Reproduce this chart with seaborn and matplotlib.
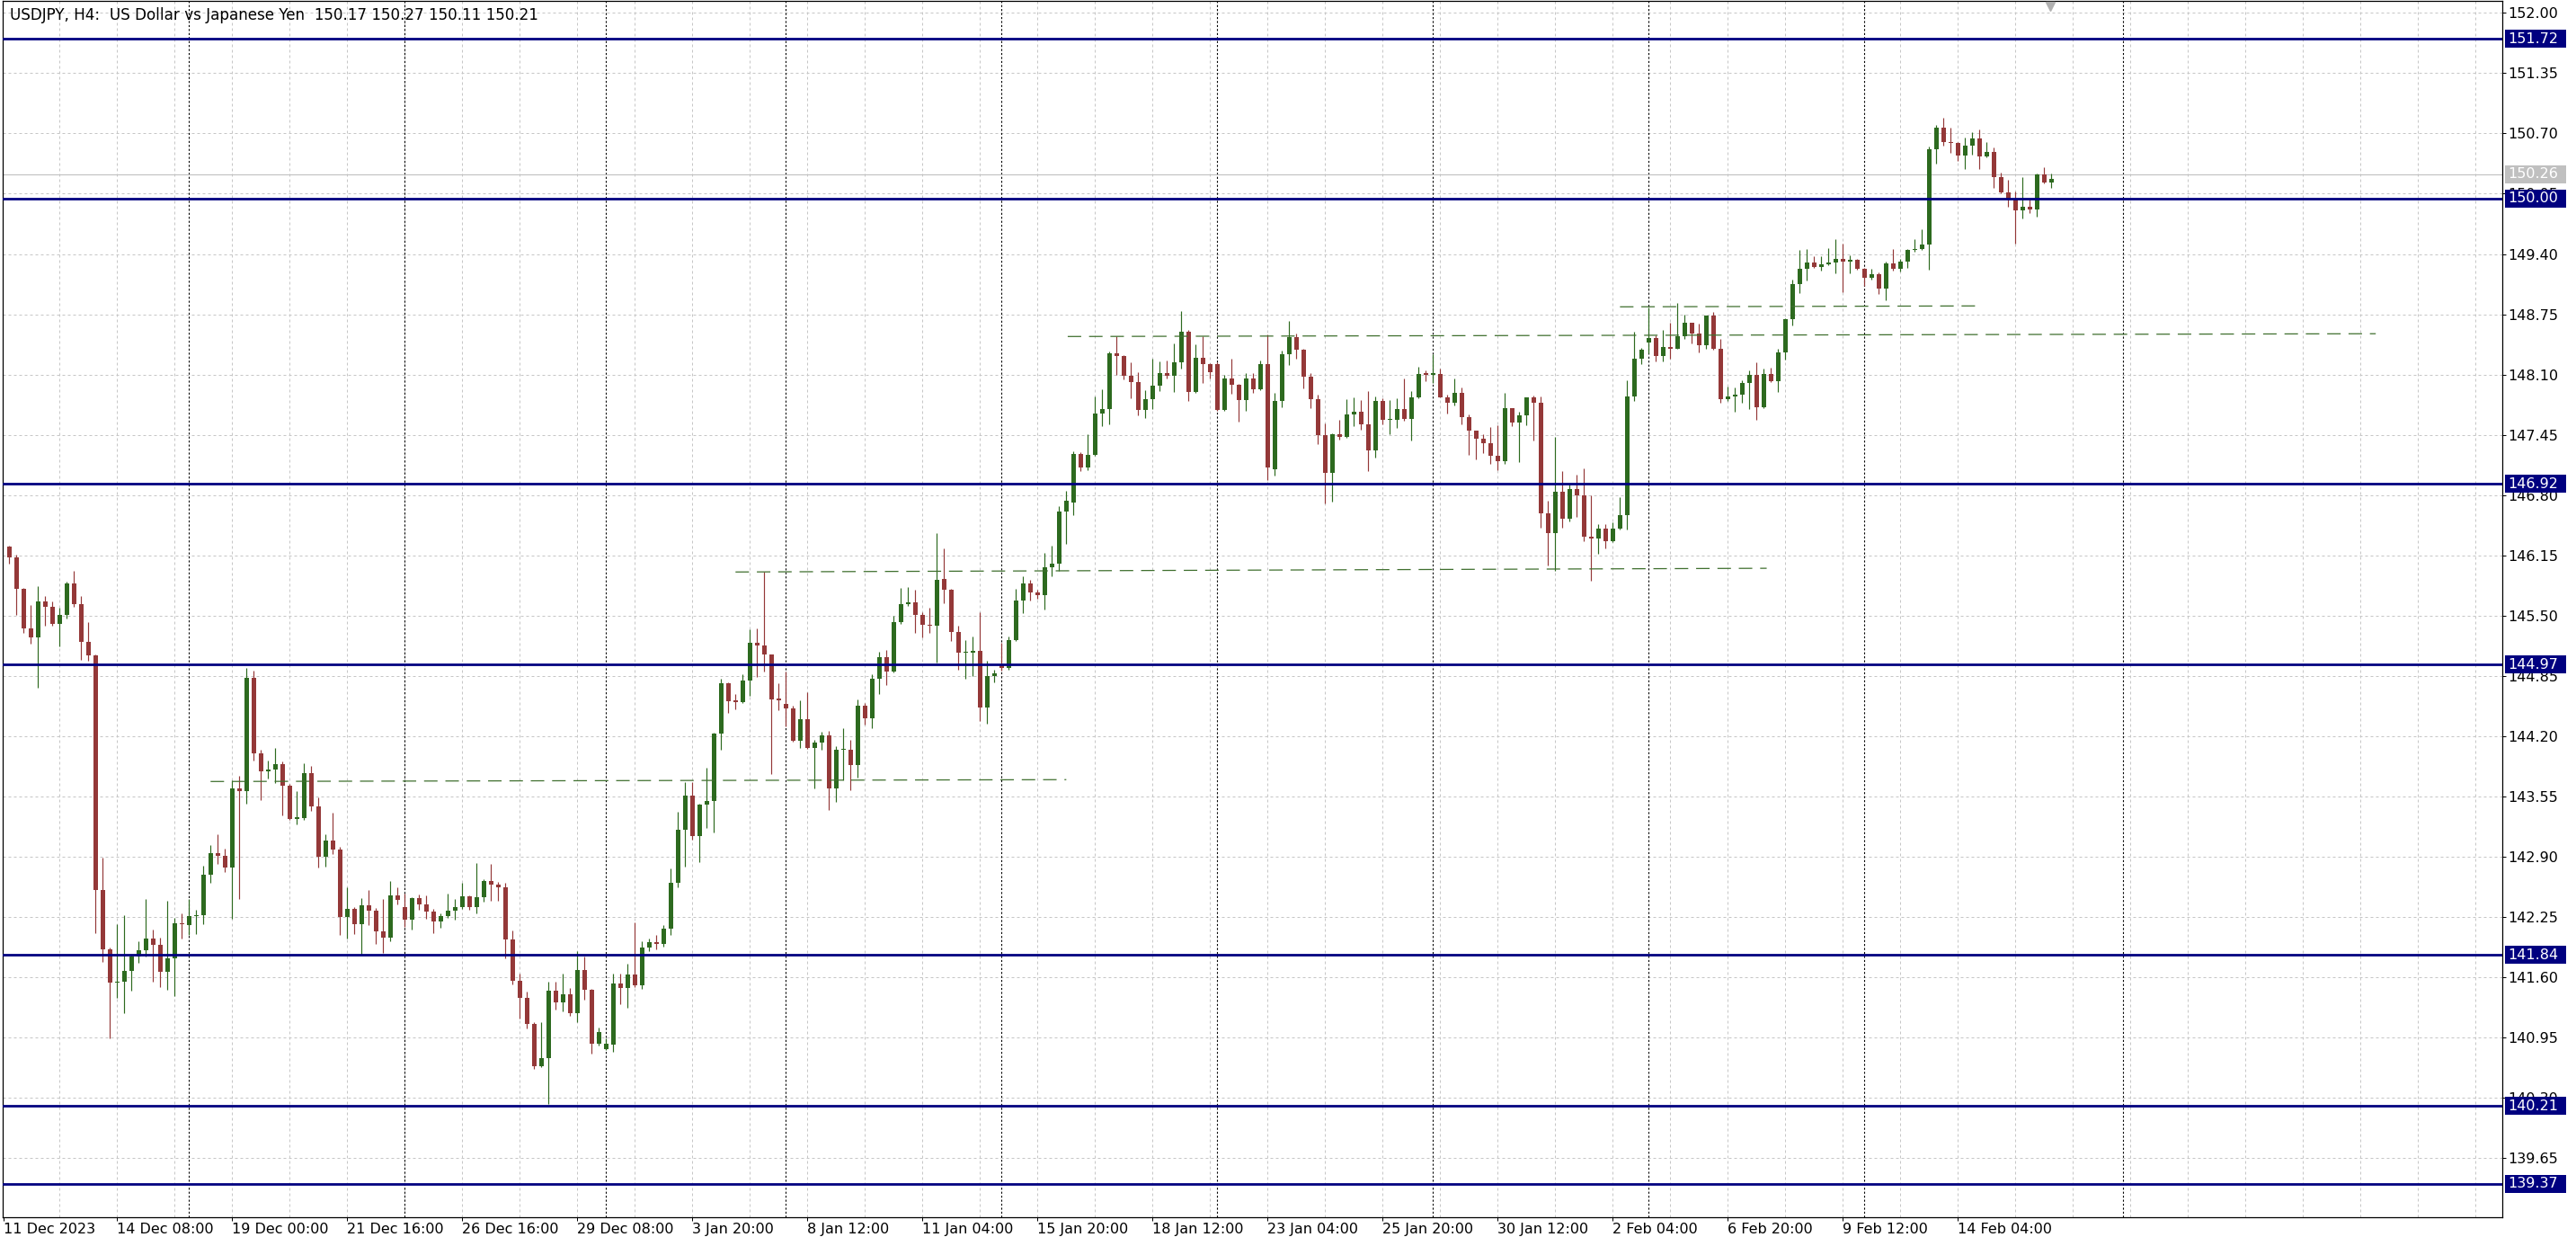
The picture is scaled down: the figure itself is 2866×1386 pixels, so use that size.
import matplotlib
matplotlib.use("Agg")
import matplotlib.pyplot as plt
import matplotlib.transforms as mtransforms
from matplotlib.patches import Rectangle
import seaborn as sns
import numpy as np

# USDJPY H4 candles, first bar = 11 Dec 2023 20:00
opens = [
    146.24, 146.13, 145.79, 145.36, 145.26, 145.65, 145.59, 145.41, 145.51, 145.85,
    145.62, 145.22, 145.07, 142.54, 141.90, 141.54, 141.55, 141.67, 141.82, 141.89,
    142.02, 141.95, 141.66, 141.80, 142.18, 142.16, 142.26, 142.27, 142.70, 142.94,
    142.91, 142.78, 143.64, 143.61, 144.83, 144.01, 143.82, 143.84, 143.90, 143.66,
    143.31, 143.32, 143.80, 143.44, 142.90, 143.07, 142.98, 142.25, 142.34, 142.17,
    142.37, 142.32, 142.09, 142.03, 142.48, 142.36, 142.22, 142.45, 142.38, 142.31,
    142.20, 142.26, 142.32, 142.36, 142.47, 142.36, 142.46, 142.64, 142.60, 142.57,
    142.01, 141.56, 141.38, 141.09, 140.64, 140.73, 141.45, 141.33, 141.41, 141.21,
    141.68, 141.46, 140.88, 140.82, 140.87, 141.53, 141.48, 141.63, 141.51, 141.92,
    141.98, 141.96, 142.12, 142.62, 143.19, 143.56, 143.12, 143.46, 143.50, 144.23,
    144.77, 144.58, 144.57, 144.80, 145.21, 145.18, 145.08, 144.60, 144.55, 144.50,
    144.15, 144.38, 144.07, 144.13, 144.21, 143.64, 144.05, 144.05, 143.89, 144.53,
    144.39, 144.82, 145.05, 144.90, 145.43, 145.62, 145.64, 145.51, 145.40, 145.39,
    145.89, 145.78, 145.32, 145.10, 145.10, 145.12, 144.51, 144.85, 144.96, 144.93,
    145.24, 145.66, 145.85, 145.75, 145.72, 146.02, 146.06, 146.62, 146.72, 147.24,
    147.10, 147.23, 147.68, 147.73, 148.33, 148.30, 148.09, 148.02, 147.72, 147.83,
    147.98, 148.12, 148.09, 148.23, 148.56, 147.91, 148.28, 148.21, 148.21, 147.72,
    148.06, 147.99, 147.82, 148.06, 147.94, 148.21, 147.08, 147.81, 148.32, 148.50,
    148.37, 148.08, 147.83, 147.45, 147.04, 147.46, 147.43, 147.67, 147.70, 147.56,
    147.28, 147.81, 147.61, 147.61, 147.73, 147.62, 147.85, 148.11, 148.10, 148.11,
    147.85, 147.80, 147.90, 147.64, 147.49, 147.41, 147.36, 147.22, 147.17, 147.74,
    147.58, 147.66, 147.85, 147.80, 146.60, 146.39, 146.84, 146.54, 146.86, 146.80,
    146.35, 146.33, 146.44, 146.30, 146.44, 146.58, 147.86, 148.27, 148.45, 148.49,
    148.30, 148.40, 148.38, 148.51, 148.66, 148.54, 148.42, 148.74, 148.38, 147.83,
    147.86, 147.88, 148.01, 148.10, 147.75, 148.11, 148.03, 148.34, 148.70, 149.08,
    149.24, 149.31, 149.26, 149.29, 149.31, 149.35, 149.32, 149.34, 149.24, 149.14,
    149.18, 149.03, 149.30, 149.24, 149.32, 149.44, 149.45, 149.50, 150.53, 150.76,
    150.61, 150.60, 150.46, 150.57, 150.65, 150.45, 150.50, 150.23, 150.06, 150.00,
    149.87, 149.91, 149.88, 150.26, 150.17,
]
highs = [
    146.25, 146.16, 145.80, 145.61, 145.82, 145.71, 145.65, 145.58, 145.87, 145.98,
    145.71, 145.43, 145.08, 142.89, 141.92, 142.17, 142.27, 141.84, 141.99, 142.44,
    142.11, 142.03, 142.42, 142.24, 142.29, 142.44, 142.33, 142.80, 143.02, 143.14,
    142.99, 143.72, 143.77, 144.93, 144.91, 144.05, 143.94, 144.07, 143.93, 143.68,
    143.61, 143.91, 143.88, 143.54, 143.14, 143.37, 143.01, 142.57, 142.36, 142.45,
    142.54, 142.35, 142.44, 142.64, 142.57, 142.50, 142.46, 142.49, 142.48, 142.34,
    142.29, 142.50, 142.44, 142.62, 142.48, 142.83, 142.66, 142.82, 142.63, 142.62,
    142.10, 141.64, 141.44, 141.11, 141.11, 141.55, 141.55, 141.64, 141.48, 141.88,
    141.82, 141.47, 141.06, 140.94, 141.64, 141.64, 141.74, 142.19, 141.99, 142.02,
    142.05, 142.16, 142.77, 143.38, 143.70, 143.70, 143.47, 143.86, 144.24, 144.82,
    144.78, 144.65, 144.87, 145.35, 145.36, 145.97, 145.08, 144.77, 144.90, 144.53,
    144.59, 144.67, 144.16, 144.25, 144.26, 144.09, 144.29, 144.16, 144.60, 144.56,
    144.87, 145.11, 145.13, 145.50, 145.80, 145.81, 145.78, 145.54, 145.58, 146.39,
    146.22, 145.79, 145.39, 145.24, 145.27, 145.54, 145.01, 144.92, 145.21, 145.27,
    145.79, 145.92, 145.89, 145.78, 146.18, 146.25, 146.68, 146.85, 147.27, 147.26,
    147.46, 147.86, 147.94, 148.35, 148.51, 148.31, 148.23, 148.13, 147.93, 148.27,
    148.24, 148.25, 148.44, 148.78, 148.58, 148.43, 148.51, 148.22, 148.23, 148.10,
    148.27, 148.00, 148.12, 148.12, 148.25, 148.53, 147.90, 148.36, 148.68, 148.54,
    148.38, 148.12, 147.88, 147.57, 147.47, 147.61, 147.83, 147.85, 147.82, 147.92,
    147.86, 147.84, 147.82, 147.84, 148.06, 147.92, 148.18, 148.14, 148.32, 148.16,
    147.88, 148.06, 147.96, 147.67, 147.49, 147.46, 147.53, 147.55, 147.90, 147.74,
    147.70, 147.85, 147.87, 147.86, 146.74, 147.43, 147.06, 146.91, 147.02, 147.09,
    146.80, 146.49, 146.49, 146.51, 146.78, 148.04, 148.56, 148.39, 148.82, 148.52,
    148.58, 148.66, 148.87, 148.75, 148.66, 148.65, 148.74, 148.77, 148.48, 147.97,
    147.96, 148.04, 148.14, 148.23, 148.16, 148.17, 148.38, 148.71, 149.12, 149.44,
    149.45, 149.38, 149.38, 149.46, 149.56, 149.51, 149.39, 149.35, 149.25, 149.24,
    149.20, 149.32, 149.45, 149.35, 149.45, 149.56, 149.67, 150.56, 150.79, 150.87,
    150.76, 150.61, 150.66, 150.71, 150.74, 150.61, 150.55, 150.28, 150.20, 150.07,
    150.23, 149.99, 150.27, 150.34, 150.27,
]
lows = [
    146.06, 145.51, 145.31, 145.20, 144.72, 145.39, 145.39, 145.17, 145.47, 145.59,
    145.02, 145.01, 142.07, 141.76, 140.94, 141.38, 141.21, 141.45, 141.75, 141.82,
    141.55, 141.49, 141.46, 141.40, 142.02, 142.05, 142.06, 142.17, 142.62, 142.82,
    142.73, 142.23, 142.44, 143.47, 143.94, 143.51, 143.74, 143.69, 143.34, 143.30,
    143.25, 143.30, 143.39, 142.78, 142.79, 142.93, 142.05, 142.02, 142.06, 141.84,
    142.16, 141.96, 141.86, 141.99, 142.38, 142.14, 142.11, 142.33, 142.23, 142.07,
    142.13, 142.24, 142.22, 142.34, 142.33, 142.29, 142.41, 142.42, 142.42, 141.80,
    141.52, 141.15, 141.05, 140.61, 140.63, 140.23, 141.25, 141.23, 141.18, 141.11,
    141.36, 140.77, 140.86, 140.81, 140.79, 141.31, 141.27, 141.49, 141.47, 141.88,
    141.90, 141.93, 142.05, 142.57, 142.79, 143.08, 142.84, 143.21, 143.16, 144.05,
    144.45, 144.49, 144.56, 144.63, 144.84, 144.90, 143.79, 144.48, 144.30, 144.14,
    144.07, 144.06, 143.64, 144.05, 143.40, 143.49, 143.72, 143.62, 143.75, 144.32,
    144.29, 144.65, 144.75, 144.89, 145.41, 145.60, 145.31, 145.26, 145.31, 144.99,
    145.63, 145.23, 144.92, 144.82, 144.85, 144.36, 144.33, 144.78, 144.91, 144.92,
    145.23, 145.53, 145.66, 145.68, 145.57, 145.92, 145.98, 146.27, 146.58, 147.06,
    147.07, 147.22, 147.54, 147.56, 148.10, 148.05, 147.84, 147.66, 147.63, 147.73,
    147.92, 148.06, 147.91, 148.16, 147.81, 147.90, 148.01, 148.06, 147.71, 147.71,
    147.89, 147.59, 147.71, 147.90, 147.93, 146.96, 147.01, 147.75, 148.20, 148.27,
    147.95, 147.74, 147.35, 146.71, 146.73, 147.40, 147.42, 147.54, 147.50, 147.06,
    147.20, 147.56, 147.46, 147.52, 147.60, 147.39, 147.84, 148.03, 148.01, 147.85,
    147.68, 147.77, 147.56, 147.23, 147.18, 147.25, 147.14, 147.07, 147.14, 147.54,
    147.16, 147.55, 147.39, 146.45, 146.04, 145.98, 146.45, 146.52, 146.56, 146.30,
    145.88, 146.17, 146.22, 146.29, 146.43, 146.43, 147.81, 148.21, 148.33, 148.24,
    148.24, 148.27, 148.38, 148.48, 148.44, 148.34, 148.38, 148.37, 147.80, 147.81,
    147.70, 147.80, 147.73, 147.61, 147.74, 148.02, 147.91, 148.26, 148.63, 148.98,
    149.11, 149.25, 149.22, 149.28, 149.19, 148.99, 149.19, 149.23, 149.06, 149.12,
    148.97, 148.90, 149.22, 149.21, 149.25, 149.42, 149.44, 149.23, 150.37, 150.57,
    150.49, 150.40, 150.32, 150.47, 150.32, 150.44, 150.11, 150.05, 149.91, 149.51,
    149.78, 149.84, 149.80, 150.16, 150.11,
]
closes = [
    146.13, 145.79, 145.36, 145.26, 145.65, 145.59, 145.41, 145.51, 145.85, 145.62,
    145.22, 145.07, 142.54, 141.90, 141.54, 141.55, 141.67, 141.82, 141.89, 142.02,
    141.95, 141.66, 141.80, 142.18, 142.17, 142.26, 142.27, 142.70, 142.94, 142.91,
    142.78, 143.64, 143.61, 144.83, 144.01, 143.82, 143.84, 143.90, 143.66, 143.31,
    143.32, 143.80, 143.44, 142.90, 143.07, 142.98, 142.25, 142.34, 142.17, 142.37,
    142.32, 142.09, 142.03, 142.48, 142.43, 142.22, 142.45, 142.38, 142.31, 142.20,
    142.26, 142.32, 142.36, 142.47, 142.36, 142.46, 142.64, 142.60, 142.57, 142.01,
    141.56, 141.38, 141.09, 140.64, 140.73, 141.45, 141.33, 141.41, 141.21, 141.68,
    141.46, 140.88, 141.01, 140.88, 141.53, 141.48, 141.63, 141.51, 141.92, 141.98,
    141.96, 142.12, 142.62, 143.19, 143.56, 143.12, 143.46, 143.50, 144.23, 144.77,
    144.58, 144.57, 144.80, 145.21, 145.18, 145.08, 144.60, 144.59, 144.50, 144.15,
    144.38, 144.07, 144.13, 144.21, 143.64, 144.05, 144.06, 143.89, 144.53, 144.39,
    144.82, 145.05, 144.90, 145.43, 145.62, 145.64, 145.51, 145.40, 145.39, 145.89,
    145.78, 145.32, 145.10, 145.10, 145.12, 144.51, 144.85, 144.88, 144.93, 145.24,
    145.66, 145.85, 145.75, 145.72, 146.02, 146.06, 146.62, 146.74, 147.24, 147.10,
    147.23, 147.68, 147.73, 148.33, 148.30, 148.09, 148.02, 147.72, 147.83, 147.98,
    148.12, 148.09, 148.23, 148.56, 147.91, 148.28, 148.21, 148.13, 147.72, 148.06,
    147.99, 147.82, 148.06, 147.94, 148.21, 147.10, 147.81, 148.32, 148.50, 148.37,
    148.08, 147.83, 147.45, 147.04, 147.46, 147.43, 147.67, 147.70, 147.56, 147.28,
    147.81, 147.61, 147.61, 147.73, 147.62, 147.85, 148.11, 148.10, 148.11, 147.85,
    147.80, 147.90, 147.64, 147.49, 147.41, 147.36, 147.22, 147.17, 147.74, 147.58,
    147.66, 147.85, 147.80, 146.60, 146.39, 146.84, 146.54, 146.86, 146.80, 146.35,
    146.33, 146.44, 146.30, 146.44, 146.58, 147.86, 148.27, 148.37, 148.49, 148.30,
    148.40, 148.38, 148.51, 148.66, 148.54, 148.42, 148.74, 148.38, 147.83, 147.86,
    147.88, 148.01, 148.10, 147.75, 148.11, 148.03, 148.34, 148.70, 149.08, 149.24,
    149.31, 149.26, 149.29, 149.31, 149.35, 149.32, 149.34, 149.24, 149.14, 149.18,
    149.03, 149.30, 149.24, 149.32, 149.44, 149.45, 149.50, 150.53, 150.76, 150.61,
    150.60, 150.46, 150.57, 150.65, 150.45, 150.50, 150.23, 150.06, 150.00, 149.87,
    149.91, 149.88, 150.26, 150.17, 150.21,
]

time_labels = [
    "11 Dec 2023", "14 Dec 08:00", "19 Dec 00:00", "21 Dec 16:00", "26 Dec 16:00",
    "29 Dec 08:00", "3 Jan 20:00", "8 Jan 12:00", "11 Jan 04:00", "15 Jan 20:00",
    "18 Jan 12:00", "23 Jan 04:00", "25 Jan 20:00", "30 Jan 12:00", "2 Feb 04:00",
    "6 Feb 20:00", "9 Feb 12:00", "14 Feb 04:00",
]
# bar numbers where a period separator is drawn
week_starts = [25, 55, 83, 108, 138, 168, 198, 228, 258, 294]

# horizontal support / resistance levels
levels = [151.72, 150.00, 146.92, 144.97, 141.84, 140.21, 139.37]
last_price = 150.26

# dashed trend lines: bar from/to and price from/to
trend_bars = [(28.0, 147.0), (101.0, 244.4), (147.2, 329.1), (224.0, 273.9)]
trend_prices = [(143.71, 143.73), (145.97, 146.01), (148.51, 148.54), (148.83, 148.84)]

title = "USDJPY, H4:  US Dollar vs Japanese Yen  150.17 150.27 150.11 150.21"

# ---- style ----
BULL = "#2d6a1f"
BEAR = "#943838"
NAVY = "#000080"
GRID = "#c6c6c6"
TREND = "#3f6f2e"
FS = 11.5

sns.set_theme(style="white")
plt.rcParams["font.family"] = ["DejaVu Sans"]

W, H = 2866, 1386
fig = plt.figure(figsize=(W / 100, H / 100), dpi=100)
fig.patch.set_facecolor("white")
ax = fig.add_axes([3 / W, 32 / H, 2781 / W, 1353 / H])
ax.set_facecolor("white")
ax.set_xlim(-0.91, 346.7)
ax.set_ylim(139.01, 152.13)

price_ticks = np.round(152.00 - 0.65 * np.arange(20), 2)

# grid
for p in price_ticks:
    ax.axhline(p, color=GRID, lw=0.72, ls=(0, (3, 3)), zorder=0)
for b in range(7, 347, 8):
    ax.axvline(b, color=GRID, lw=0.72, ls=(0, (3, 3)), zorder=0)
for b in week_starts:
    ax.axvline(b, color="black", lw=0.8, ls=(0, (2, 2)), zorder=1)

# candles
o = np.array(opens)
h = np.array(highs)
l = np.array(lows)
c = np.array(closes)
x = np.arange(len(o))
colors = np.where(c >= o, BULL, BEAR)
ax.vlines(x, l, h, colors=colors, lw=0.85, zorder=3)
body_lo = np.minimum(o, c)
body_h = np.maximum(np.abs(c - o), 0.012)
ax.bar(x, body_h, bottom=body_lo, width=0.62, color=colors, linewidth=0, zorder=3)

# levels and price line
ax.axhline(last_price, color="#c0c0c0", lw=0.8, zorder=2)
for lv in levels:
    ax.axhline(lv, color=NAVY, lw=2.0, zorder=4)

for (b0, b1), (p0, p1) in zip(trend_bars, trend_prices):
    ax.plot([b0, b1], [p0, p1], color=TREND, lw=0.9, ls=(0, (12, 7)), zorder=4)

# chart shift marker
ax.plot(283.8, 152.075, marker="v", ms=7, color="#b0b0b0", clip_on=False, zorder=6)

# axes frame
for s in ax.spines.values():
    s.set_color("black")
    s.set_linewidth(0.9)

# price scale on the right
ax.set_yticks(price_ticks)
ax.set_yticklabels([f"{t:.2f}" for t in price_ticks])
ax.tick_params(axis="y", left=False, labelleft=False, right=True, labelright=True,
               length=3, width=0.72, color="black", pad=1.2, labelsize=FS,
               labelcolor="black", direction="out")

# time scale
tick_bars = [-0.75] + [15 + 16 * k for k in range(len(time_labels) - 1)]
ax.set_xticks(tick_bars)
ax.set_xticklabels(time_labels)
for lbl in ax.get_xticklabels():
    lbl.set_horizontalalignment("left")
ax.tick_params(axis="x", bottom=True, length=3, width=0.72, color="black", pad=1.5,
               labelsize=FS, labelcolor="black", direction="out")

# level tags on the price scale
tr = mtransforms.blended_transform_factory(ax.transAxes, ax.transData)
px_w = 1 / 2781
px_p = 13.12 / 1353


def price_tag(value, face):
    ax.add_patch(Rectangle((1 + 3 * px_w, value - 10 * px_p), 68 * px_w, 20 * px_p,
                           transform=tr, facecolor=face, edgecolor="none",
                           clip_on=False, zorder=10))
    ax.text(1 + 6 * px_w, value, f"{value:.2f}", transform=tr, color="white",
            fontsize=FS, va="center", ha="left", clip_on=False, zorder=11)


price_tag(last_price, "#c0c0c0")
for lv in levels:
    price_tag(lv, NAVY)

fig.text(11 / W, 1 - 17 / H, title, fontsize=12.1, va="center", ha="left", color="black")

fig.savefig("out.png", dpi=100)
